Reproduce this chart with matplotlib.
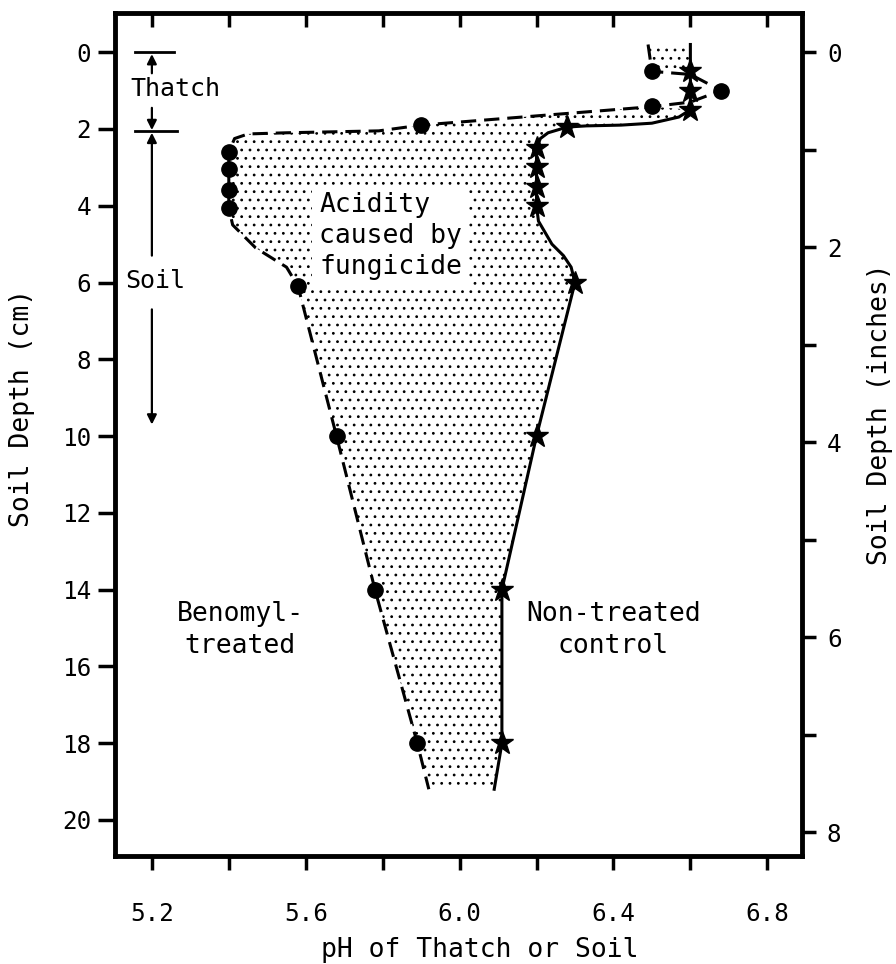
import matplotlib
matplotlib.use("Agg")
import matplotlib.pyplot as plt
from matplotlib.patches import Polygon
import numpy as np

plt.rcParams['font.family'] = ['DejaVu Sans Mono', 'DejaVu Sans']
plt.rcParams['hatch.linewidth'] = 0.8

# ---- measured points (pH, depth cm) ----
benomyl_ph    = [6.50, 6.68, 6.50, 5.90, 5.40, 5.40, 5.40, 5.40, 5.58, 5.68, 5.78, 5.89]
benomyl_depth = [0.5, 1.0, 1.4, 1.9, 2.6, 3.05, 3.6, 4.05, 6.1, 10.0, 14.0, 18.0]

control_ph    = [6.60, 6.60, 6.60, 6.28, 6.20, 6.20, 6.20, 6.20, 6.30, 6.20, 6.11, 6.11]
control_depth = [0.5, 1.0, 1.5, 1.95, 2.5, 3.0, 3.5, 4.0, 6.0, 10.0, 14.0, 18.0]

# ---- drawn curves ----
benomyl_curve_ph    = [6.49, 6.50, 6.60, 6.68, 6.60, 6.50, 6.20, 5.90, 5.79, 5.55, 5.45, 5.415,
                       5.40, 5.40, 5.40, 5.40, 5.41, 5.47, 5.55, 5.58, 5.68, 5.78, 5.89, 5.92]
benomyl_curve_depth = [-0.2, 0.5, 0.58, 1.0, 1.3, 1.42, 1.66, 1.9, 2.05, 2.1, 2.13, 2.25,
                       2.6, 3.05, 3.6, 4.05, 4.5, 5.1, 5.6, 6.1, 10.0, 14.0, 18.0, 19.2]

control_curve_ph    = [6.60, 6.60, 6.60, 6.60, 6.57, 6.50, 6.42, 6.33, 6.28, 6.23, 6.21, 6.20,
                       6.20, 6.20, 6.20, 6.205, 6.24, 6.27, 6.29, 6.30, 6.20, 6.11, 6.11, 6.09]
control_curve_depth = [-0.2, 0.5, 1.0, 1.5, 1.69, 1.85, 1.9, 1.92, 1.95, 2.1, 2.25, 2.5,
                       3.0, 3.5, 4.0, 4.4, 5.0, 5.3, 5.6, 6.0, 10.0, 14.0, 18.0, 19.2]

ph_ticks = [5.2, 5.6, 6.0, 6.4, 6.8]
ph_minor = [5.4, 5.8, 6.2, 6.6]
cm_ticks = list(range(0, 21, 2))
in_ticks = [0, 2, 4, 6, 8]
in_minor = [1, 3, 5, 7]

FS_TICK = 17.5
FS_TXT = 19
FS_LAB = 19

fig = plt.figure(figsize=(8.96, 9.64), dpi=100)
ax = fig.add_axes([0.1283, 0.1120, 0.7667, 0.8745])
ax.set_xlim(5.104, 6.89)
ax.set_ylim(20.94, -1.02)

# stippled fill: soil region between curves
bx = np.array(benomyl_curve_ph); by = np.array(benomyl_curve_depth)
cx = np.array(control_curve_ph); cy = np.array(control_curve_depth)
i0 = 5  # benomyl path from (6.5, 1.42) downward
j0 = 3  # control path up to (6.6, 1.5)
soil_poly = np.vstack([np.column_stack([bx[i0:], by[i0:]]),
                       np.column_stack([cx[j0:][::-1], cy[j0:][::-1]])])
ax.add_patch(Polygon(soil_poly, closed=True, facecolor='none', edgecolor='black',
                     hatch='..', linewidth=0, zorder=1))
thatch_poly = np.vstack([np.column_stack([bx[:2], by[:2]]),
                         np.column_stack([cx[:2][::-1], cy[:2][::-1]])])
ax.add_patch(Polygon(thatch_poly, closed=True, facecolor='none', edgecolor='black',
                     hatch='..', linewidth=0, zorder=1))

ax.plot(benomyl_curve_ph, benomyl_curve_depth, color='black', lw=2.2,
        linestyle=(0, (5, 2.6)), zorder=3)
ax.plot(control_curve_ph, control_curve_depth, color='black', lw=2.2, zorder=3)
ax.plot(benomyl_ph, benomyl_depth, 'o', color='black', markersize=11, zorder=4)
ax.plot(control_ph, control_depth, '*', color='black', markersize=17, zorder=4)

# texts
ax.text(5.635, 4.8, "Acidity\ncaused by\nfungicide", fontsize=FS_TXT, ha='left', va='center',
        linespacing=1.25, zorder=5,
        bbox=dict(facecolor='white', edgecolor='none', pad=5))
ax.text(5.43, 15.05, "Benomyl-\ntreated", fontsize=FS_TXT, ha='center', va='center', linespacing=1.3)
ax.text(6.40, 15.05, "Non-treated\ncontrol", fontsize=FS_TXT, ha='center', va='center', linespacing=1.3)
ax.text(5.26, 0.97, "Thatch", fontsize=18, ha='center', va='center')
ax.text(5.21, 5.95, "Soil", fontsize=18, ha='center', va='center')

# thatch / soil brackets
ax.plot([5.155, 5.257], [0, 0], color='black', lw=2)
ax.plot([5.155, 5.265], [2.05, 2.05], color='black', lw=2)
ap = dict(arrowstyle='-|>', color='black', lw=1.6, mutation_scale=14, shrinkA=0, shrinkB=0)
ax.annotate("", xy=(5.2, 0.05), xytext=(5.2, 0.55), arrowprops=ap)
ax.annotate("", xy=(5.2, 2.03), xytext=(5.2, 1.45), arrowprops=ap)
ax.annotate("", xy=(5.2, 2.1), xytext=(5.2, 5.3), arrowprops=ap)
ax.annotate("", xy=(5.2, 9.7), xytext=(5.2, 6.7), arrowprops=ap)

# axes styling
for s in ax.spines.values():
    s.set_linewidth(3.5)
ax.set_yticks(cm_ticks)
ax.set_xticks(ph_ticks)
ax.set_xticks(ph_minor, minor=True)
ax.xaxis.set_major_formatter(matplotlib.ticker.FormatStrFormatter('%.1f'))
ax.tick_params(axis='x', which='both', direction='out', length=10, width=2.5, pad=23,
               labelsize=FS_TICK, bottom=True, top=False)
ax.tick_params(axis='y', which='both', direction='out', length=12, width=2.5, pad=5,
               labelsize=FS_TICK, left=True, right=False)

top = ax.secondary_xaxis('top')
top.set_xticks(ph_ticks + ph_minor)
top.tick_params(direction='in', length=10, width=2.5, labeltop=False)
top.spines['top'].set_visible(False)

right = ax.secondary_yaxis('right', functions=(lambda c: c / 2.54, lambda i: i * 2.54))
right.set_yticks(in_ticks)
right.set_yticks(in_minor, minor=True)
right.yaxis.set_minor_formatter(matplotlib.ticker.NullFormatter())
right.tick_params(which='both', direction='out', length=10, width=2.5, pad=8, labelsize=FS_TICK)
right.spines['right'].set_visible(False)

fig.text(0.535, 0.0145, "pH of Thatch or Soil", fontsize=FS_LAB, ha='center', va='center')
fig.text(0.025, 0.577, "Soil Depth (cm)", fontsize=FS_LAB, ha='center', va='center', rotation=90)
fig.text(0.982, 0.57, "Soil Depth (inches)", fontsize=FS_LAB, ha='center', va='center', rotation=90)

fig.savefig("out.png", dpi=100)
